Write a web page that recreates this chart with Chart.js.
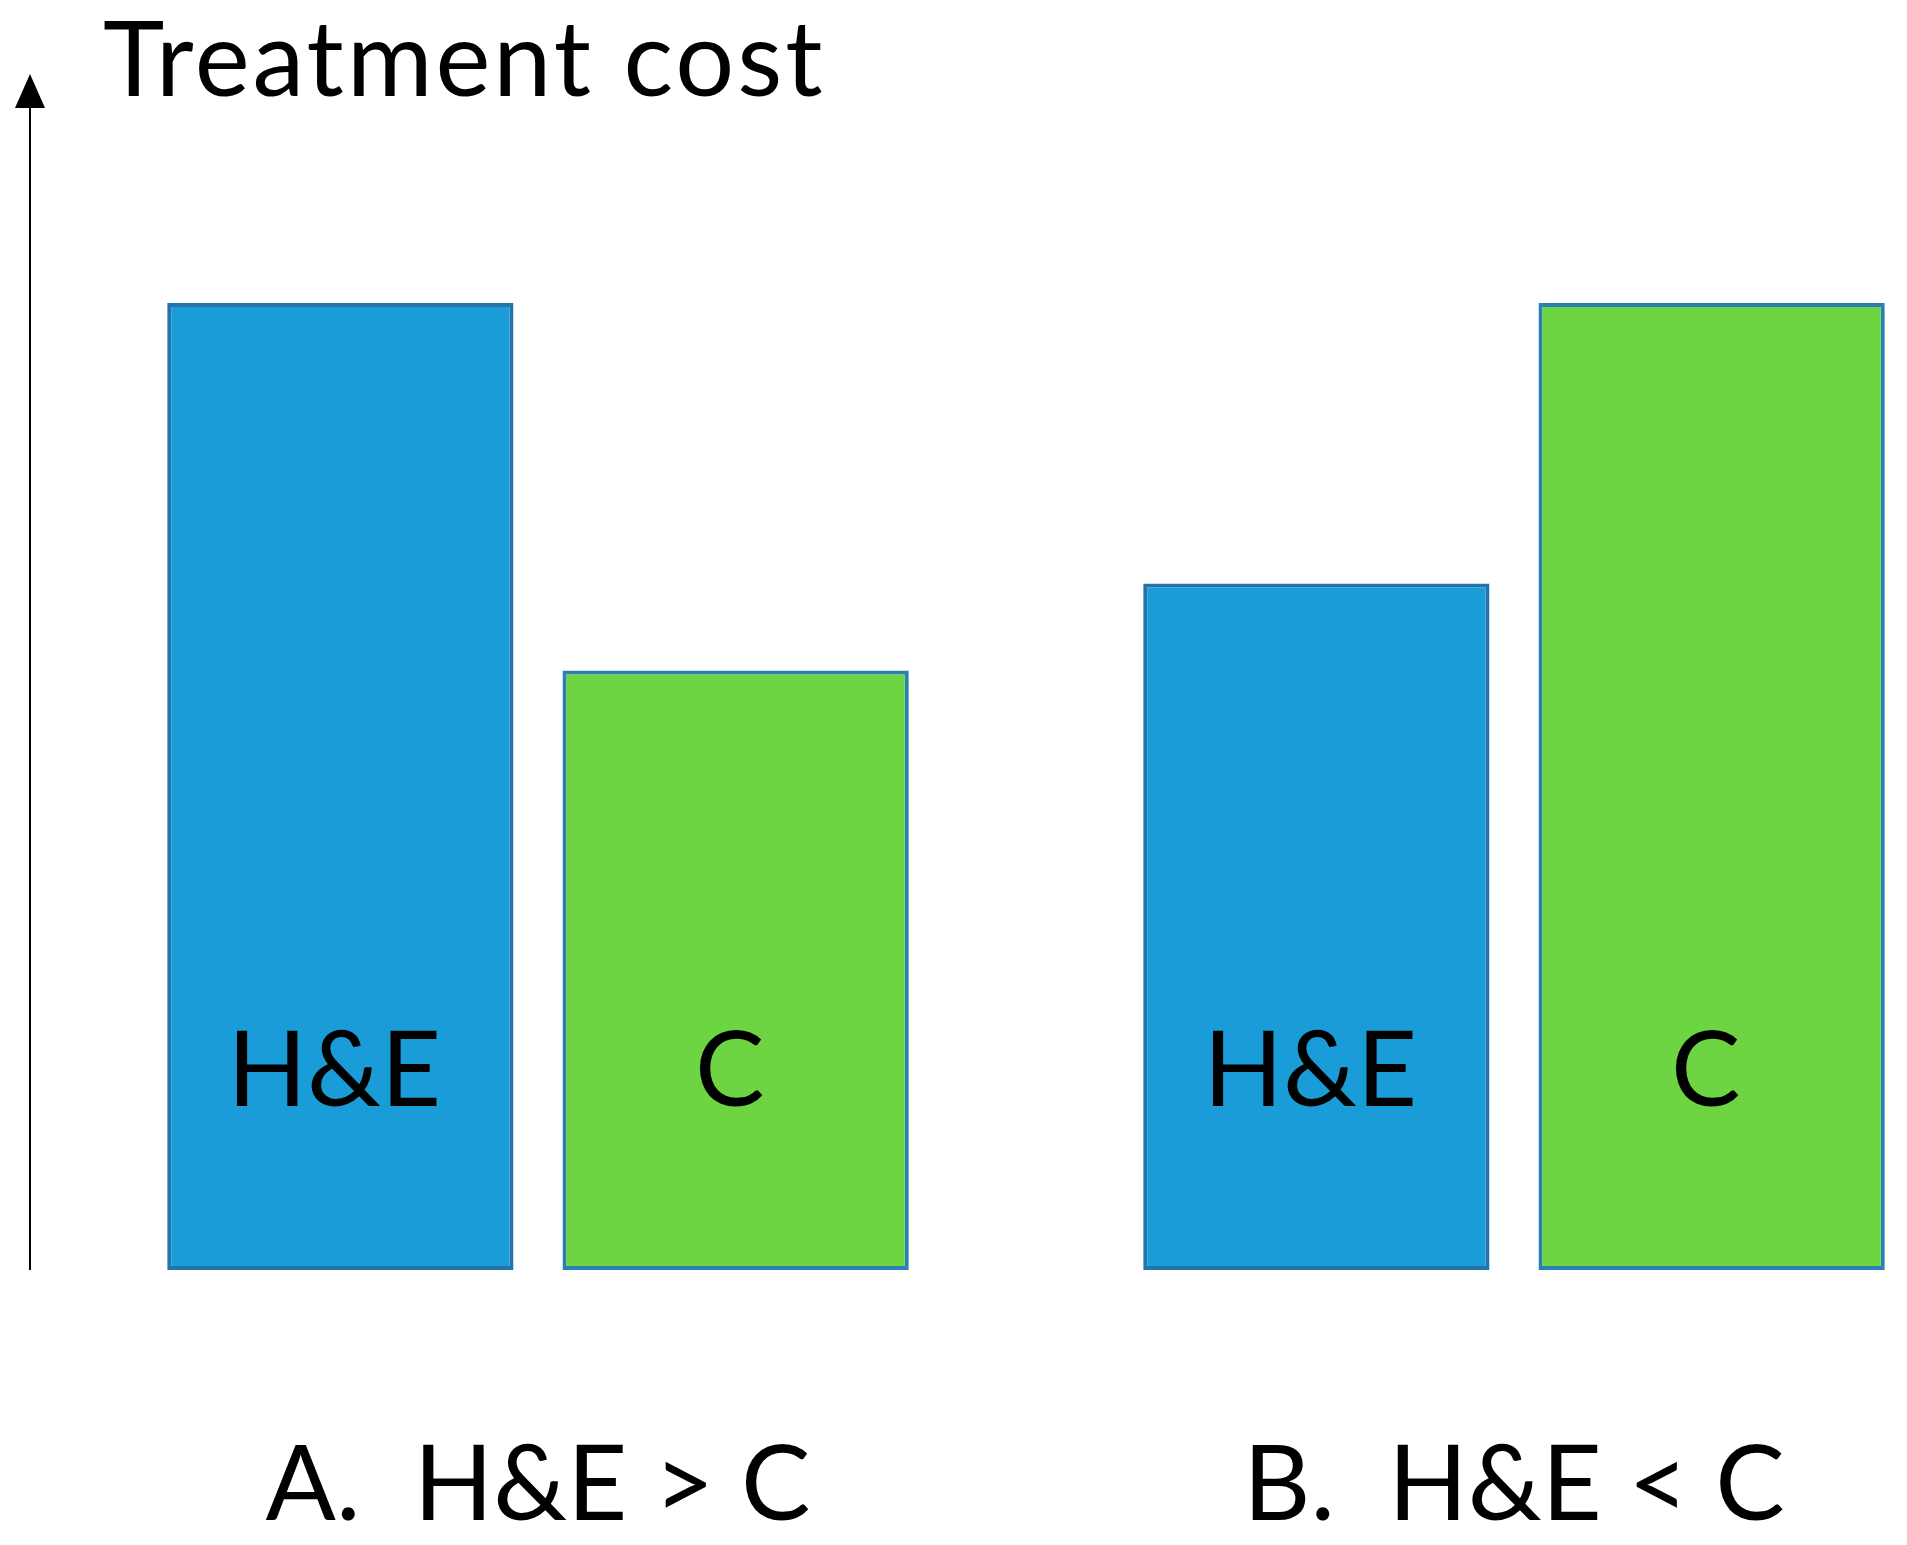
<!DOCTYPE html>
<html>
<head>
<meta charset="utf-8">
<script src="https://cdn.jsdelivr.net/npm/chart.js@4.4.1/dist/chart.umd.min.js"></script>
<style>
    html, body { margin: 0; padding: 0; background: #fff; overflow: hidden; }
    #wrap { position: relative; width: 1907px; height: 1545px; overflow: hidden; }
    #costChart { position: absolute; left: 0; top: 0; }
</style>
</head>
<body>
<div id="wrap">
    <canvas id="costChart" width="2010" height="1545"></canvas>
</div>
<script>
// =====================================================
// DATA
// =====================================================
const scenarios = ["A.  H&E > C", "B.  H&E < C"];
const treatments = ["H&E", "C"];
const costHE = [100, 71];
const costC = [62, 100];

const FONT = "Lato, 'Open Sans', sans-serif";

// =====================================================
// PLUGINS: y arrow, title, in-bar labels
// =====================================================
const decorations = {
    id: 'decorations',
    afterDraw(chart) {
        const ctx = chart.ctx;
        const area = chart.chartArea;
        const y = chart.scales.y;

        // Vertical arrow (cost axis)
        const ax = area.left - 20;
        ctx.save();
        ctx.strokeStyle = '#000';
        ctx.lineWidth = 2;
        ctx.beginPath();
        ctx.moveTo(ax, y.getPixelForValue(0));
        ctx.lineTo(ax, 100);
        ctx.stroke();
        ctx.fillStyle = '#000';
        ctx.beginPath();
        ctx.moveTo(ax, 74);
        ctx.lineTo(ax - 15, 108);
        ctx.lineTo(ax + 15, 108);
        ctx.closePath();
        ctx.fill();

        // Axis title
        ctx.font = "104px " + FONT;
        ctx.letterSpacing = "3px";
        ctx.textBaseline = 'alphabetic';
        ctx.textAlign = 'left';
        ctx.fillText("Treatment cost", ax + 73, 96);
        ctx.letterSpacing = "0px";

        // Labels inside bars
        ctx.font = "104px " + FONT;
        ctx.textAlign = 'center';
        chart.data.datasets.forEach((ds, di) => {
            const meta = chart.getDatasetMeta(di);
            meta.data.forEach(bar => {
                ctx.fillText(treatments[di], bar.x - 6, y.getPixelForValue(17));
            });
        });
        ctx.restore();
    }
};

// =====================================================
// CHART
// =====================================================
new Chart(document.getElementById('costChart'), {
    type: 'bar',
    data: {
        labels: scenarios,
        datasets: [
            {
                label: treatments[0],
                data: costHE,
                backgroundColor: '#1a9cd8',
                borderColor: '#2274aa',
                borderWidth: 4,
                borderSkipped: false
            },
            {
                label: treatments[1],
                data: costC,
                backgroundColor: '#6dd442',
                borderColor: '#2a7fb4',
                borderWidth: 4,
                borderSkipped: false
            }
        ]
    },
    options: {
        responsive: false,
        animation: false,
        devicePixelRatio: 1,
        categoryPercentage: 0.81,
        barPercentage: 0.876,
        layout: { padding: { left: 50, right: 8, top: 303, bottom: 0 } },
        scales: {
            y: { display: false, min: 0, max: 100 },
            x: {
                grid: { display: false, drawTicks: false },
                border: { display: false },
                afterFit(scale) { scale.height = 275; },
                ticks: {
                    color: '#000',
                    padding: 154,
                    font: { family: FONT, size: 104 }
                }
            }
        },
        plugins: {
            legend: { display: false },
            tooltip: { enabled: false }
        }
    },
    plugins: [decorations]
});
</script>
</body>
</html>
